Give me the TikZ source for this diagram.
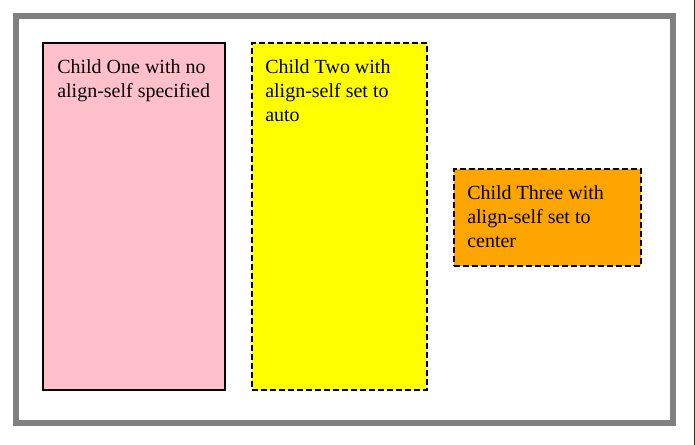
\documentclass[tikz,border=0pt]{standalone}
\usepackage{fontspec}
\setmainfont{Liberation Serif}
\definecolor{pinkfill}{HTML}{FFC0CB}
\definecolor{yellowfill}{HTML}{FFFF00}
\definecolor{orangefill}{HTML}{FFA500}
\definecolor{framegray}{HTML}{808080}
\definecolor{edgeline}{RGB}{60,45,20}
\begin{document}
\begin{tikzpicture}[x=0.75pt,y=-0.75pt,
  childbox/.style={draw=black, line width=1.5pt, inner sep=0pt, anchor=north west},
  dashedbox/.style={childbox, dash pattern=on 4.5pt off 2.25pt},
  childtext/.style={anchor=north west, inner sep=0pt, align=left, text=black,
    font=\fontsize{15}{18}\selectfont}]
\useasboundingbox (0,0) rectangle (695,445);
\fill[white] (0,0) rectangle (695,445);
% outer container
\node[draw=framegray, line width=4.5pt, inner sep=0pt, anchor=north west,
  minimum width=657*0.75pt, minimum height=407*0.75pt] (frame) at (13,13) {};
% right edge line
\coordinate (et) at (694.5,0);
\coordinate (eb) at (694.5,445);
\draw[edgeline, line width=0.75pt] (et) -- (eb);
% children
\node[childbox, fill=pinkfill, minimum width=182*0.75pt, minimum height=347*0.75pt] (one) at (42,42) {};
\node[dashedbox, fill=yellowfill, minimum width=175*0.75pt, minimum height=347*0.75pt] (two) at (251,42) {};
\node[dashedbox, fill=orangefill, minimum width=187*0.75pt, minimum height=97*0.75pt] (three) at (453,168) {};
% texts (first baseline at top + 16.8px strut)
\node[childtext] (t1) at (57,56.2) {\strut Child One with no\\align-self specified};
\node[childtext] (t2) at (265,56.2) {\strut Child Two with\\align-self set to\\auto};
\node[childtext] (t3) at (467,182.2) {\strut Child Three with\\align-self set to\\center};
\end{tikzpicture}
\end{document}
